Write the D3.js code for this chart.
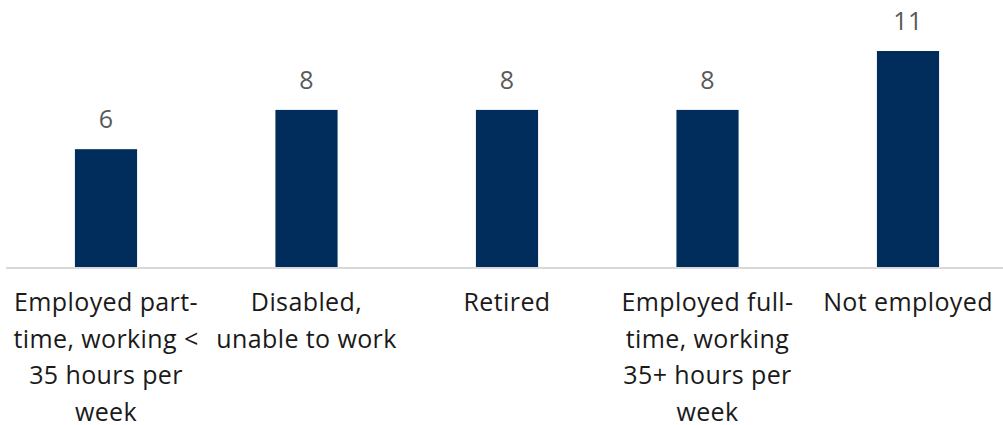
<!DOCTYPE html>
<html>
<head>
<meta charset="utf-8">
<script src="https://cdn.jsdelivr.net/npm/d3@7"></script>
<style>
  body { margin: 0; background: #fff; }
  svg text { font-family: "Open Sans", sans-serif; }
</style>
</head>
<body>
<div id="chart"></div>
<script>
// categories and values
var categories = ["parttime", "disabled", "retired", "fulltime", "notemployed"];
var values = [6, 8, 8, 8, 11];
var tickLabels = [
  ["Employed part-", "time, working <", "35 hours per", "week"],
  ["Disabled,", "unable to work"],
  ["Retired"],
  ["Employed full-", "time, working", "35+ hours per", "week"],
  ["Not employed"]
];

drawChart();

function drawChart() {
  var width = 1003, height = 425;
  var baseY = 267;

  var svg = d3.select("#chart").append("svg")
      .attr("width", width)
      .attr("height", height);

  var x = d3.scaleBand()
      .domain(categories)
      .range([5.75, 5.75 + 200.5 * 5])
      .paddingInner(0.69)
      .paddingOuter(0.345);

  var y = d3.scaleLinear()
      .domain([0, 11])
      .range([baseY, 51]);

  // baseline
  svg.append("line")
      .attr("x1", 6).attr("x2", width)
      .attr("y1", baseY + 1).attr("y2", baseY + 1)
      .attr("stroke", "#d9d9d9")
      .attr("stroke-width", 2);

  // bars
  svg.selectAll("rect.bar")
      .data(values)
    .enter().append("rect")
      .attr("class", "bar")
      .attr("x", function(d, i) { return x(categories[i]); })
      .attr("width", x.bandwidth())
      .attr("y", function(d) { return y(d); })
      .attr("height", function(d) { return baseY - y(d); })
      .attr("fill", "#002D5C");

  // value labels
  svg.selectAll("text.val")
      .data(values)
    .enter().append("text")
      .attr("class", "val")
      .attr("x", function(d, i) { return x(categories[i]) + x.bandwidth() / 2; })
      .attr("y", function(d) { return y(d) - 21; })
      .attr("text-anchor", "middle")
      .attr("fill", "#595959")
      .style("font-size", "25px")
      .style("letter-spacing", "0.4px")
      .text(function(d) { return d; });

  // category labels
  var lab = svg.selectAll("text.cat")
      .data(tickLabels)
    .enter().append("text")
      .attr("class", "cat")
      .attr("text-anchor", "middle")
      .attr("fill", "#1a1a1a")
      .style("font-size", "25px")
      .style("letter-spacing", "0.4px")
      .attr("transform", function(d, i) {
        return "translate(" + (x(categories[i]) + x.bandwidth() / 2) + ",311)";
      });

  lab.selectAll("tspan")
      .data(function(d) { return d; })
    .enter().append("tspan")
      .attr("x", 0)
      .attr("y", function(d, i) { return i * 36.7; })
      .text(function(d) { return d; });
}
</script>
</body>
</html>
